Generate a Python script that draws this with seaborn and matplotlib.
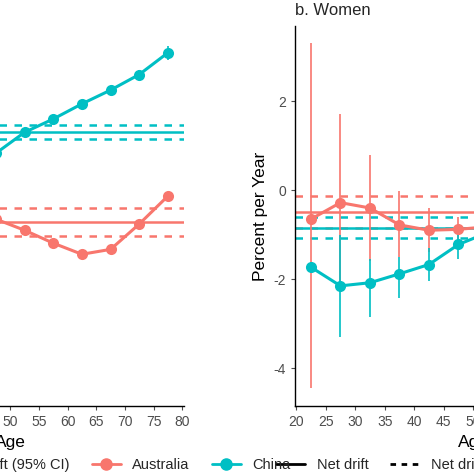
import matplotlib
matplotlib.use("Agg")
import matplotlib.pyplot as plt
from matplotlib.lines import Line2D
import pandas as pd
import seaborn as sns

sns.set_style("white")
plt.rcParams['font.family'] = ['Liberation Sans', 'DejaVu Sans']

AUS = "#F8766D"
CHN = "#00BFC4"

ages = [22.5, 27.5, 32.5, 37.5, 42.5, 47.5, 52.5, 57.5, 62.5, 67.5, 72.5, 77.5]

# a. Men (panel mostly cut off on the left)
men_aus = [0.3, 0.1, -0.1, -0.3, -0.5, -0.65, -0.9, -1.19, -1.44, -1.33, -0.76, -0.13]
men_chn = [-1.2, -0.8, -0.4, 0.0, 0.4, 0.83, 1.30, 1.60, 1.94, 2.25, 2.60, 3.09]
men_aus_lo = [v - 0.08 for v in men_aus]
men_aus_hi = [v + 0.08 for v in men_aus]
men_chn_lo = [-1.3, -0.9, -0.5, -0.1, 0.32, 0.76, 1.24, 1.52, 1.87, 2.17, 2.50, 2.93]
men_chn_hi = [-1.1, -0.7, -0.3, 0.1, 0.48, 0.90, 1.36, 1.68, 2.01, 2.33, 2.70, 3.25]
men_net = {"Australia": (-0.72, -1.03, -0.40), "China": (1.30, 1.15, 1.46)}

# b. Women
wom_aus = [-0.65, -0.28, -0.40, -0.78, -0.90, -0.88, -0.82, -0.75, -0.70, -0.60, -0.50, -0.40]
wom_aus_lo = [-4.45, -2.15, -1.60, -1.50, -1.40, -1.10, -1.00, -0.95, -0.90, -0.85, -0.80, -0.75]
wom_aus_hi = [3.30, 1.72, 0.78, -0.02, -0.40, -0.60, -0.62, -0.55, -0.50, -0.35, -0.20, -0.05]
wom_chn = [-1.73, -2.15, -2.08, -1.88, -1.67, -1.22, -0.95, -0.70, -0.50, -0.30, -0.10, 0.10]
wom_chn_lo = [-1.80, -3.30, -2.85, -2.43, -2.05, -1.55, -1.15, -0.90, -0.70, -0.50, -0.30, -0.15]
wom_chn_hi = [-1.66, -1.00, -1.55, -1.50, -1.30, -0.95, -0.75, -0.50, -0.30, -0.10, 0.10, 0.35]
wom_net = {"Australia": (-0.50, -0.85, -0.13), "China": (-0.85, -1.07, -0.60)}

W = 474
fig = plt.figure(figsize=(4.74, 4.74), dpi=100)
bottom, top = 1 - 406 / W, 1 - 26 / W
xlim = (19.8, 80.3)
ylim = (-4.85, 3.69)

ax_l = fig.add_axes([-163 / W, bottom, 347 / W, top - bottom])
ax_r = fig.add_axes([295 / W, bottom, 357 / W, top - bottom])


def draw(ax, aus, aus_lo, aus_hi, chn, chn_lo, chn_hi, net):
    df = pd.DataFrame({
        "Age": ages * 2,
        "val": aus + chn,
        "Country": ["Australia"] * len(ages) + ["China"] * len(ages),
    })
    for c, col in [("Australia", AUS), ("China", CHN)]:
        m, lo, hi = net[c]
        ax.axhline(m, color=col, lw=1.8)
        ax.axhline(lo, color=col, lw=1.8, ls=(0, (3, 3)))
        ax.axhline(hi, color=col, lw=1.8, ls=(0, (3, 3)))
    ax.vlines(ages, aus_lo, aus_hi, color=AUS, lw=1.2)
    ax.vlines(ages, chn_lo, chn_hi, color=CHN, lw=1.2)
    sns.lineplot(data=df, x="Age", y="val", hue="Country", palette=[AUS, CHN],
                 marker="o", markersize=8, markeredgewidth=0, lw=2.2, ax=ax, legend=False)
    ax.set_xlim(*xlim)
    ax.set_ylim(*ylim)
    ax.set_xticks(range(20, 81, 5))
    ax.set_yticks([-4, -2, 0, 2])
    ax.set_yticklabels(["-4", "-2", "0", "2"])
    for s in ["top", "right"]:
        ax.spines[s].set_visible(False)
    for s in ["left", "bottom"]:
        ax.spines[s].set_color("black")
        ax.spines[s].set_linewidth(1)
    ax.tick_params(axis="both", colors="#4d4d4d", labelsize=10, length=3, width=0.8,
                   direction="out", left=True, bottom=True)
    ax.set_xlabel("Age", fontsize=12.5, color="black")
    ax.set_ylabel("Percent per Year", fontsize=12.5, color="black")


draw(ax_l, men_aus, men_aus_lo, men_aus_hi, men_chn, men_chn_lo, men_chn_hi, men_net)
draw(ax_r, wom_aus, wom_aus_lo, wom_aus_hi, wom_chn, wom_chn_lo, wom_chn_hi, wom_net)
ax_l.set_title("a. Men", loc="left", fontsize=12)
ax_r.set_title("b. Women", loc="left", fontsize=12, x=0.0, pad=8)

handles = [
    Line2D([], [], color="black", lw=2),
    Line2D([], [], color="black", lw=2, ls=(0, (2, 2))),
    Line2D([], [], color=AUS, lw=2, marker="o", markersize=8),
    Line2D([], [], color=CHN, lw=2, marker="o", markersize=8),
]
labels = ["Net drift", "Net drift (95% CI)", "Australia", "China"]
for x0 in [270 / W, (270 - 475) / W]:
    fig.legend(handles, labels, loc="center left", bbox_to_anchor=(x0, 1 - 465 / W),
               ncol=4, frameon=False, fontsize=10.5, handlelength=2.0,
               columnspacing=1.5, handletextpad=0.8, borderaxespad=0)

fig.savefig("out.png", dpi=100)
